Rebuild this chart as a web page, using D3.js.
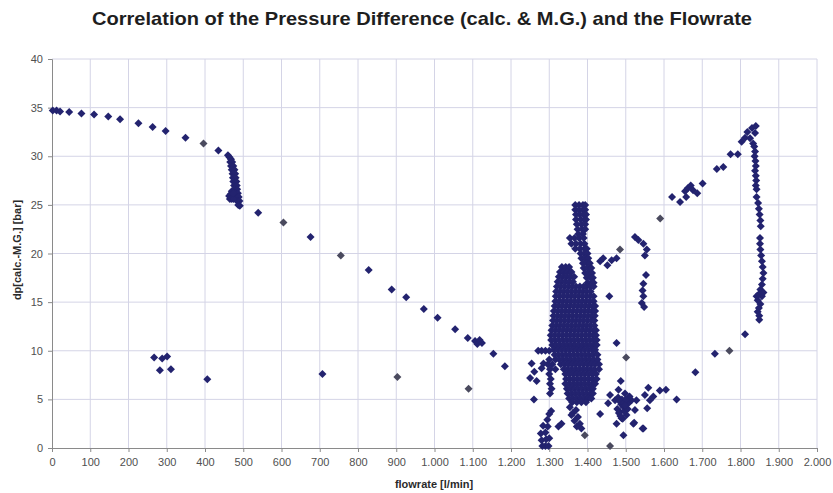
<!DOCTYPE html>
<html>
<head>
<meta charset="utf-8">
<script src="https://cdn.jsdelivr.net/npm/d3@7"></script>
<style>
  html, body { margin: 0; padding: 0; background: #fff; }
  svg { display: block; font-family: "Liberation Sans", Arial, sans-serif; }
</style>
</head>
<body>
<svg id="chart" width="833" height="493"></svg>
<script>
// ---------- DATA (flowrate [l/min], dp [bar]) ----------
const titleText = "Correlation of the Pressure Difference (calc. & M.G.) and the Flowrate";
const xLabel = "flowrate [l/min]";
const yLabel = "dp[calc.-M.G.] [bar]";
const xTickValues = [0,100,200,300,400,500,600,700,800,900,1000,1100,1200,1300,1400,1500,1600,1700,1800,1900,2000];
const yTickValues = [0,5,10,15,20,25,30,35,40];

const upperCurve = [[2,34.7],[12,34.7],[21,34.6],[45,34.55],[77,34.4],[110,34.3],[147,34.1],[178,33.8],[226,33.4],[263,33.0],[297,32.6],[349,31.9],[435,30.6]];
const kneeBand = [[460,30.1],[464,29.9],[468,29.7],[466,29.4],[471,29.4],[468,29.0],[474,29.0],[470,28.6],[477,28.6],[472,28.2],[479,28.2],[473,27.8],[480,27.8],[474,27.4],[482,27.4],[476,27.0],[483,27.0],[477,26.6],[484,26.6],[479,26.2],[486,26.2],[481,25.8],[488,25.8],[484,25.4],[490,25.4],[487,25.0],[491,24.9],[463,25.9],[467,26.1],[465,25.6],[470,25.6],[470,26.4],[475,25.6],[474,26.2]];
const lowerCurve = [[539,24.2],[676,21.7],[828,18.3],[888,16.3],[926,15.5],[972,14.3],[1008,13.4],[1054,12.2],[1087,11.3],[1106,11.0],[1112,10.7],[1118,11.1],[1124,10.8],[1154,9.7],[1184,8.4]];
const lowScatter = [[267,9.3],[282,8.0],[288,9.2],[301,9.4],[311,8.1],[406,7.06],[707,7.6]];
const fadedPoints = [[396,31.3],[605,23.2],[755,19.8],[903,7.3],[1089,6.1],[1393,1.3],[1459,0.2],[1485,20.4],[1501,9.3],[1590,23.6],[1771,10.0]];

// main cluster, rows of [dp, flows]
const mainClusterRows = [
  [25.0,[1368,1378,1388,1394]],[24.5,[1368,1378,1388,1394]],[24.0,[1370,1380,1390,1396]],[23.5,[1370,1382,1392,1396]],
  [23.0,[1372,1384,1394]],[22.5,[1374,1386,1394]],[22.0,[1376,1388]],[21.6,[1354,1366,1378,1390]],[21.0,[1358,1370,1382,1392]],
  [20.5,[1368,1380,1392,1398]],[20.0,[1382,1392,1400]],[19.5,[1384,1394,1402]],[19.0,[1388,1398,1406]],[18.5,[1390,1400,1410]],
  [18.0,[1394,1404,1412]],[17.5,[1398,1408,1414]],[17.0,[1400,1410,1416]],[16.6,[1398,1408,1416]],
  [18.6,[1333,1343,1352]],[18.1,[1328,1338,1348,1358]],[17.6,[1325,1335,1345,1355,1365]],[17.1,[1322,1332,1342,1352,1362]],
  [16.6,[1320,1330,1340,1350,1360,1370,1380,1390]],[16.1,[1318,1328,1338,1348,1358,1368,1378,1388,1398,1408]],
  [15.6,[1317,1327,1337,1347,1357,1367,1377,1387,1397,1407,1416]],[15.1,[1316,1326,1336,1346,1356,1366,1376,1386,1396,1406,1416]],
  [14.6,[1314,1324,1334,1344,1354,1364,1374,1384,1394,1404,1414,1420]],[14.1,[1312,1322,1332,1342,1352,1362,1372,1382,1392,1402,1412,1420]],
  [13.6,[1311,1321,1331,1341,1351,1361,1371,1381,1391,1401,1411,1419]],[13.1,[1310,1320,1330,1340,1350,1360,1370,1380,1390,1400,1410,1418]],
  [12.6,[1308,1318,1328,1338,1348,1358,1368,1378,1388,1398,1408,1418]],[12.1,[1306,1316,1326,1336,1346,1356,1366,1376,1386,1396,1406,1416,1422]],
  [11.6,[1304,1314,1324,1334,1344,1354,1364,1374,1384,1394,1404,1414,1422]],[11.1,[1305,1315,1325,1335,1345,1355,1365,1375,1385,1395,1405,1415,1424]],
  [10.6,[1308,1318,1328,1338,1348,1358,1368,1378,1388,1398,1408,1418,1424]],[10.1,[1312,1322,1332,1342,1352,1362,1372,1382,1392,1402,1412,1420]],
  [10.0,[1271,1280,1290,1300]],
  [9.6,[1314,1324,1334,1344,1354,1364,1374,1384,1394,1404,1414,1426]],[9.1,[1300,1316,1326,1336,1346,1356,1366,1376,1386,1396,1406,1416,1426]],
  [8.6,[1296,1308,1330,1340,1350,1360,1370,1380,1390,1400,1410,1420,1430]],[8.1,[1302,1316,1338,1348,1358,1368,1378,1388,1398,1408,1418,1430]],
  [7.6,[1300,1342,1352,1362,1372,1382,1392,1402,1412,1422]],[7.1,[1304,1344,1354,1364,1374,1384,1394,1404,1414,1424]],
  [6.6,[1302,1342,1352,1362,1372,1382,1392,1402,1412,1420]],[6.1,[1306,1346,1356,1366,1376,1386,1396,1406,1414]],
  [5.6,[1302,1348,1358,1368,1378,1388,1398,1408,1414]],[5.1,[1352,1362,1372,1382,1392,1402,1410]],[4.7,[1360,1372,1384,1396]]
];
const clusterEdges = [[1254,8.7],[1261,7.85],[1250,7.2],[1267,6.9],[1260,5.0],[1285,8.7],[1280,8.2],
  [1354,4.2],[1362,3.6],[1370,3.9],[1375,3.2],[1366,2.8],[1380,2.5],[1384,2.0],[1372,2.2],[1358,3.4],
  [1324,2.2],[1332,2.5],[1282,0.2],[1290,0.2],[1298,0.2],[1280,0.8],[1292,0.9],[1300,1.0],[1278,1.5],
  [1290,1.6],[1284,2.3],[1296,2.2],[1300,3.5],[1305,3.8],[1295,2.9]];
const rightCluster = [[1476,10.8],[1487,6.9],[1481,6.0],[1498,5.6],[1459,5.45],[1454,4.6],[1472,4.9],[1494,4.25],
  [1507,4.6],[1485,3.7],[1502,3.4],[1515,4.9],[1528,4.9],[1524,3.9],[1520,2.5],[1546,2.0],[1494,1.3],[1559,6.2],
  [1550,5.45],[1563,4.9],[1556,4.1],[1572,5.3],[1589,5.9],[1605,6.0],[1633,5.0],[1433,3.5],[1476,2.5],[1489,3.05],
  [1480,5.2],[1490,5.0],[1488,4.5],[1478,4.0],[1496,3.8],[1492,3.0],[1505,4.0],[1510,5.3],[1522,2.6],[1544,2.0],
  [1484,4.8],[1494,4.6],[1500,5.0],[1486,3.3],[1498,4.4],[1482,3.6]];
const midUpper = [[1433,19.2],[1441,19.5],[1452,18.8],[1463,19.3],[1476,19.5],[1457,15.6],
  [1524,21.7],[1533,21.4],[1546,21.0],[1555,20.4],[1550,19.8],[1553,17.8],[1546,16.9],[1544,16.2],
  [1546,15.6],[1542,14.9],[1548,14.5]];
const rightBranch = [[1621,25.8],[1642,25.3],[1658,25.8],[1655,26.4],[1662,26.7],[1670,27.0],[1676,26.5],[1687,26.2],
  [1701,27.2],[1738,28.7],[1755,28.9],[1774,30.2],[1793,30.2],
  [1803,31.5],[1812,31.9],[1818,32.5],[1825,31.85],[1830,32.9],[1840,33.1],[1833,31.3],[1838,32.4],
  [1836,31.0],[1838,30.5],[1837,30.0],[1839,29.5],[1840,29.0],[1838,28.5],[1840,28.0],[1841,27.5],[1840,27.0],
  [1842,26.6],[1842,25.8],[1846,25.2],[1848,24.6],[1850,24.0],[1852,23.4],[1853,22.8],[1851,21.6],[1851,21.0],
  [1852,20.4],[1854,19.8],[1856,19.2],[1858,18.6],[1860,18.0],[1858,17.4],[1856,16.8],[1852,16.3],[1848,15.8],
  [1856,15.6],[1845,15.2],[1852,14.8],[1848,14.4],[1845,14.0],[1849,13.6],[1849,13.2],[1860,16.0],[1842,15.6]];
const lowerRight = [[1682,7.8],[1733,9.7],[1812,11.7]];

// ---------- LAYOUT ----------
const svg = d3.select("#chart");
const margin = {left: 52, right: 16, top: 59, bottom: 45};
const W = 833, H = 493;
const x = d3.scaleLinear().domain([0, 2000]).range([margin.left, W - margin.right]);
const y = d3.scaleLinear().domain([0, 40]).range([H - margin.bottom, margin.top]);
const markColor = "#23236f";
const fmt = d3.formatLocale({decimal: ",", thousands: ".", grouping: [3], currency: ["", ""]}).format(",");

// grid
svg.append("g").selectAll("line").data(xTickValues.slice(1)).join("line")
  .attr("x1", d => x(d)).attr("x2", d => x(d)).attr("y1", y(0)).attr("y2", y(40))
  .attr("stroke", "#d4d4e6").attr("stroke-width", 1);
svg.append("g").selectAll("line").data(yTickValues.slice(1)).join("line")
  .attr("x1", x(0)).attr("x2", x(2000)).attr("y1", d => y(d)).attr("y2", d => y(d))
  .attr("stroke", "#d4d4e6").attr("stroke-width", 1);

// axes
const xAxis = svg.append("g").attr("transform", `translate(0,${y(0)})`)
  .call(d3.axisBottom(x).tickValues(xTickValues).tickFormat(fmt).tickSize(4).tickPadding(6));
const yAxis = svg.append("g").attr("transform", `translate(${x(0)},0)`)
  .call(d3.axisLeft(y).tickValues(yTickValues).tickSize(4).tickPadding(5));
[xAxis, yAxis].forEach(g => {
  g.select(".domain").attr("stroke", "#8a8a8a");
  g.selectAll(".tick line").attr("stroke", "#8a8a8a");
  g.selectAll(".tick text").attr("fill", "#505050").style("font-size", "11px")
    .style("font-family", "'Liberation Sans', Arial, sans-serif");
});

// points
const r = 4;
const diamond = `M0,${-r}L${r},0L0,${r}L${-r},0Z`;
const mainCluster = mainClusterRows.flatMap(([dp, flows]) => flows.map(f => [f, dp]));
const darkSets = [upperCurve, kneeBand, lowerCurve, lowScatter, mainCluster, clusterEdges, rightCluster, midUpper, rightBranch, lowerRight];
const pts = svg.append("g");
darkSets.forEach(set => {
  pts.append("g").selectAll("path").data(set).join("path")
    .attr("d", diamond)
    .attr("transform", d => `translate(${x(d[0])},${y(d[1])})`)
    .attr("fill", markColor);
});
pts.append("g").selectAll("path").data(fadedPoints).join("path")
  .attr("d", diamond)
  .attr("transform", d => `translate(${x(d[0])},${y(d[1])})`)
  .attr("fill", "#4a4a5e");

// titles
svg.append("text").attr("x", 422).attr("y", 25).attr("text-anchor", "middle")
  .style("font-size", "19px").style("font-weight", "bold").attr("fill", "#1e1e1e")
  .attr("textLength", 660).attr("lengthAdjust", "spacingAndGlyphs")
  .text(titleText);
svg.append("text").attr("x", 434).attr("y", 488).attr("text-anchor", "middle")
  .style("font-size", "11px").style("font-weight", "bold").attr("fill", "#2a2a2a")
  .text(xLabel);
svg.append("text").attr("transform", `translate(21,250) rotate(-90)`).attr("text-anchor", "middle")
  .style("font-size", "11px").style("font-weight", "bold").attr("fill", "#2a2a2a")
  .text(yLabel);
</script>
</body>
</html>
